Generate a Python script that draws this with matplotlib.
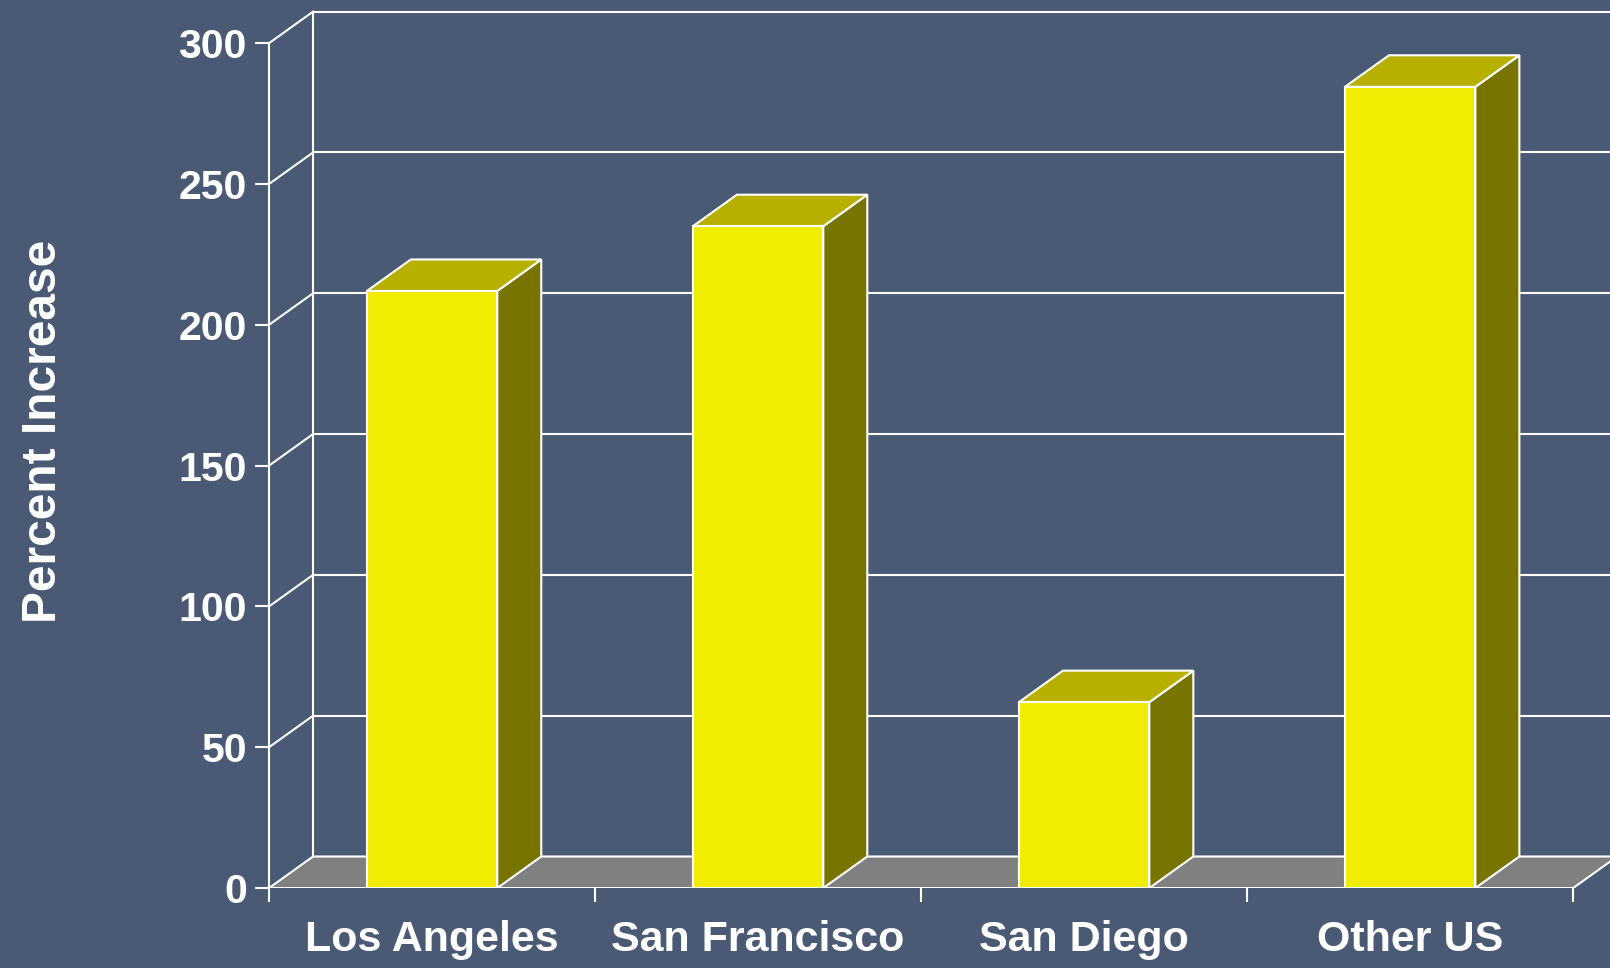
import matplotlib.pyplot as plt
from matplotlib.patches import Polygon

# chart data
categories = ['Los Angeles', 'San Francisco', 'San Diego', 'Other US']
values = [212, 235, 66, 284.5]
yticks = [0, 50, 100, 150, 200, 250, 300]

bg = '#4A5A74'
front_col = '#F2EC00'
top_col = '#B8B000'
side_col = '#787400'
floor_col = '#808080'

# depth offset of the fake 3D box (x in category units, y in value units)
dx, dy = 0.135, 11.2
bw = 0.4
ymax = 300

plt.rcParams['font.family'] = ['Liberation Sans', 'DejaVu Sans']
plt.rcParams['font.weight'] = 'bold'

fig = plt.figure(figsize=(16.1, 9.68), dpi=100, facecolor=bg)
ax = fig.add_axes([0.1671, 0.0826, 0.8329, 0.9077])
ax.set_facecolor(bg)
ax.set_xlim(0, 4.113)
ax.set_ylim(0, ymax + dy + 0.8)
for s in ax.spines.values():
    s.set_visible(False)

lw = 1.5
# back wall gridlines and left wall diagonals
for v in yticks:
    ax.plot([dx, 5], [v + dy, v + dy], color='white', lw=lw, clip_on=True, zorder=1)
    if v > 0:
        ax.plot([0, dx], [v, v + dy], color='white', lw=lw, clip_on=False, zorder=1)
ax.plot([dx, dx], [dy, ymax + dy], color='white', lw=lw, zorder=1)
ax.plot([0, 0], [0, ymax], color='white', lw=lw, clip_on=False, zorder=1)

# floor
n = len(categories)
floor = Polygon([(0, 0), (n, 0), (n + dx, dy), (dx, dy)], closed=True,
                facecolor=floor_col, edgecolor='white', lw=lw, zorder=2, clip_on=True)
ax.add_patch(floor)

# bars
for i, v in enumerate(values):
    c = i + 0.5
    l, r = c - bw / 2, c + bw / 2
    side = Polygon([(r, 0), (r + dx, dy), (r + dx, v + dy), (r, v)],
                   facecolor=side_col, edgecolor='white', lw=lw, zorder=3)
    top = Polygon([(l, v), (r, v), (r + dx, v + dy), (l + dx, v + dy)],
                  facecolor=top_col, edgecolor='white', lw=lw, zorder=3)
    front = Polygon([(l, 0), (r, 0), (r, v), (l, v)],
                    facecolor=front_col, edgecolor='white', lw=lw, zorder=4)
    ax.add_patch(side)
    ax.add_patch(top)
    ax.add_patch(front)

# ticks
ax.set_yticks(yticks)
ax.set_yticklabels([str(t) for t in yticks])
ax.tick_params(axis='y', length=10, width=1.5, color='white', labelcolor='white',
               labelsize=29.5, pad=6)
ax.set_xticks(range(n + 1))
ax.set_xticklabels([])
ax.set_xticks([i + 0.5 for i in range(n)], minor=True)
ax.set_xticklabels(categories, minor=True)
ax.tick_params(axis='x', which='major', length=10, width=1.5, color='white')
ax.tick_params(axis='x', which='minor', length=0, labelcolor='white',
               labelsize=31, pad=23)

fig.text(44 / 1610, 1 - 431 / 968, 'Percent Increase', rotation=90, ha='center',
         va='center', color='white', fontsize=34.5, fontweight='bold')

fig.savefig('out.png', dpi=100, facecolor=bg)
